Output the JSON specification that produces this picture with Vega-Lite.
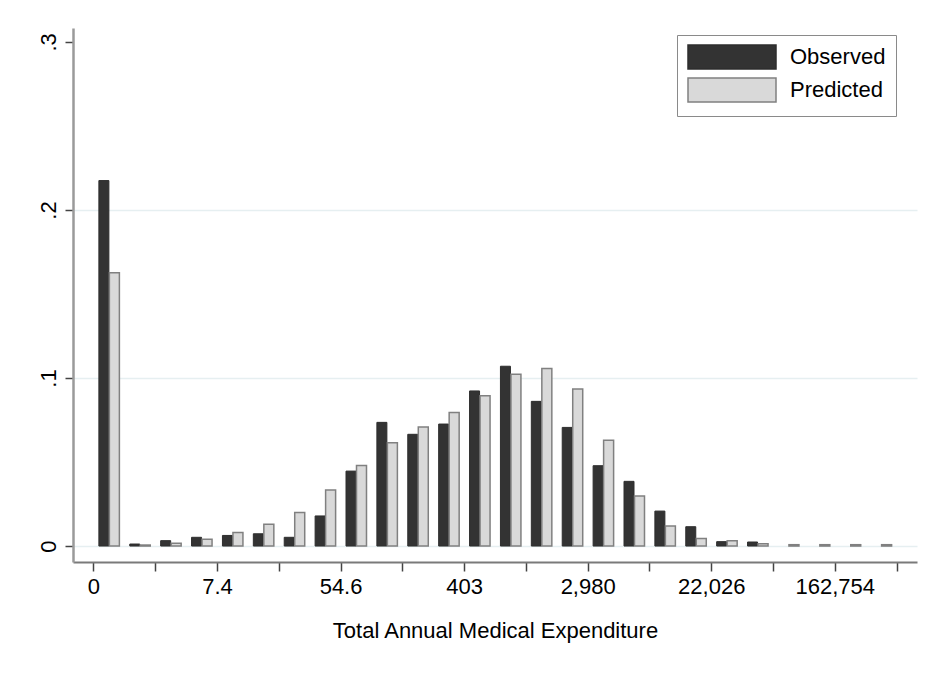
{
  "$schema": "https://vega.github.io/schema/vega-lite/v6.json",
  "width": 844,
  "height": 534,
  "autosize": {"type": "none"},
  "padding": {"left": 73, "top": 28, "right": 10, "bottom": 120},
  "background": "white",
  "config": {
    "view": {"stroke": null},
    "font": "Liberation Sans"
  },
  "data": {
    "values": [
      {"ln_exp": 0.25, "series": "Observed", "share": 0.2175},
      {"ln_exp": 0.25, "series": "Predicted", "share": 0.1627},
      {"ln_exp": 0.75, "series": "Observed", "share": 0.0012},
      {"ln_exp": 0.75, "series": "Predicted", "share": 0.0006},
      {"ln_exp": 1.25, "series": "Observed", "share": 0.0032},
      {"ln_exp": 1.25, "series": "Predicted", "share": 0.0016},
      {"ln_exp": 1.75, "series": "Observed", "share": 0.0052},
      {"ln_exp": 1.75, "series": "Predicted", "share": 0.0040},
      {"ln_exp": 2.25, "series": "Observed", "share": 0.0063},
      {"ln_exp": 2.25, "series": "Predicted", "share": 0.0081},
      {"ln_exp": 2.75, "series": "Observed", "share": 0.0073},
      {"ln_exp": 2.75, "series": "Predicted", "share": 0.0129},
      {"ln_exp": 3.25, "series": "Observed", "share": 0.0052},
      {"ln_exp": 3.25, "series": "Predicted", "share": 0.0200},
      {"ln_exp": 3.75, "series": "Observed", "share": 0.0179},
      {"ln_exp": 3.75, "series": "Predicted", "share": 0.0333},
      {"ln_exp": 4.25, "series": "Observed", "share": 0.0446},
      {"ln_exp": 4.25, "series": "Predicted", "share": 0.0480},
      {"ln_exp": 4.75, "series": "Observed", "share": 0.0736},
      {"ln_exp": 4.75, "series": "Predicted", "share": 0.0615},
      {"ln_exp": 5.25, "series": "Observed", "share": 0.0665},
      {"ln_exp": 5.25, "series": "Predicted", "share": 0.0708},
      {"ln_exp": 5.75, "series": "Observed", "share": 0.0726},
      {"ln_exp": 5.75, "series": "Predicted", "share": 0.0794},
      {"ln_exp": 6.25, "series": "Observed", "share": 0.0923},
      {"ln_exp": 6.25, "series": "Predicted", "share": 0.0895},
      {"ln_exp": 6.75, "series": "Observed", "share": 0.1070},
      {"ln_exp": 6.75, "series": "Predicted", "share": 0.1022},
      {"ln_exp": 7.25, "series": "Observed", "share": 0.0861},
      {"ln_exp": 7.25, "series": "Predicted", "share": 0.1056},
      {"ln_exp": 7.75, "series": "Observed", "share": 0.0706},
      {"ln_exp": 7.75, "series": "Predicted", "share": 0.0935},
      {"ln_exp": 8.25, "series": "Observed", "share": 0.0478},
      {"ln_exp": 8.25, "series": "Predicted", "share": 0.0629},
      {"ln_exp": 8.75, "series": "Observed", "share": 0.0385},
      {"ln_exp": 8.75, "series": "Predicted", "share": 0.0298},
      {"ln_exp": 9.25, "series": "Observed", "share": 0.0208},
      {"ln_exp": 9.25, "series": "Predicted", "share": 0.0119},
      {"ln_exp": 9.75, "series": "Observed", "share": 0.0115},
      {"ln_exp": 9.75, "series": "Predicted", "share": 0.0045},
      {"ln_exp": 10.25, "series": "Observed", "share": 0.0026},
      {"ln_exp": 10.25, "series": "Predicted", "share": 0.0032},
      {"ln_exp": 10.75, "series": "Observed", "share": 0.0024},
      {"ln_exp": 10.75, "series": "Predicted", "share": 0.0014},
      {"ln_exp": 11.25, "series": "Observed", "share": 0},
      {"ln_exp": 11.25, "series": "Predicted", "share": 0.0008},
      {"ln_exp": 11.75, "series": "Observed", "share": 0},
      {"ln_exp": 11.75, "series": "Predicted", "share": 0.0008},
      {"ln_exp": 12.25, "series": "Observed", "share": 0},
      {"ln_exp": 12.25, "series": "Predicted", "share": 0.0008},
      {"ln_exp": 12.75, "series": "Observed", "share": 0},
      {"ln_exp": 12.75, "series": "Predicted", "share": 0.0008}
    ]
  },
  "transform": [{"filter": "datum.share > 0"}],
  "encoding": {
    "x": {
      "field": "ln_exp",
      "type": "quantitative",
      "scale": {"domain": [-0.25, 13.25], "nice": false, "zero": false},
      "axis": {
        "values": [0, 1, 2, 3, 4, 5, 6, 7, 8, 9, 10, 11, 12, 13],
        "labelExpr": "datum.value == 0 ? '0' : datum.value == 2 ? '7.4' : datum.value == 4 ? '54.6' : datum.value == 6 ? '403' : datum.value == 8 ? '2,980' : datum.value == 10 ? '22,026' : datum.value == 12 ? '162,754' : ''",
        "labelFontSize": 22,
        "labelColor": "#000000",
        "labelPadding": 5,
        "labelFlush": false,
        "labelOverlap": false,
        "tickSize": 9,
        "tickColor": "#444444",
        "tickWidth": 1.5,
        "domainColor": "#7a7a7a",
        "domainWidth": 2,
        "grid": false,
        "title": "Total Annual Medical Expenditure",
        "titleFontSize": 22,
        "titleFontWeight": "normal",
        "titleColor": "#000000",
        "titlePadding": 23
      }
    },
    "y": {
      "field": "share",
      "type": "quantitative",
      "scale": {"domain": [-0.0095, 0.3083], "nice": false, "zero": false},
      "axis": {
        "values": [0, 0.1, 0.2, 0.3],
        "labelExpr": "datum.value == 0 ? '0' : '.' + round(datum.value * 10)",
        "labelAngle": -90,
        "labelFontSize": 22,
        "labelColor": "#000000",
        "labelPadding": 5,
        "tickSize": 8,
        "tickColor": "#444444",
        "tickWidth": 1.5,
        "domainColor": "#9a9a9a",
        "domainWidth": 2.5,
        "grid": true,
        "gridColor": "#e6eff1",
        "gridWidth": 1.5,
        "gridOpacity": {"condition": {"test": "datum.value > 0.25", "value": 0}, "value": 1},
        "title": null
      }
    },
    "y2": {"datum": 0},
    "color": {
      "field": "series",
      "type": "nominal",
      "scale": {"domain": ["Observed", "Predicted"], "range": ["#333333", "#d9d9d9"]},
      "legend": {
        "orient": "none",
        "legendX": 604,
        "legendY": 7,
        "title": null,
        "symbolType": "M-1,-1.1H7V1.1H-1Z",
        "symbolSize": 484,
        "symbolStrokeWidth": 1.5,
        "labelFontSize": 22,
        "labelColor": "#000000",
        "labelOffset": 79,
        "rowPadding": 1,
        "padding": 10,
        "strokeColor": "#8a8a8a",
        "fillColor": "#ffffff"
      }
    },
    "stroke": {
      "field": "series",
      "type": "nominal",
      "scale": {"domain": ["Observed", "Predicted"], "range": ["#2e2e2e", "#808080"]},
      "legend": {
        "orient": "none",
        "legendX": 604,
        "legendY": 7,
        "title": null,
        "symbolType": "M-1,-1.1H7V1.1H-1Z",
        "symbolSize": 484,
        "symbolStrokeWidth": 1.5,
        "labelFontSize": 22,
        "labelColor": "#000000",
        "labelOffset": 79,
        "rowPadding": 1,
        "padding": 10,
        "strokeColor": "#8a8a8a",
        "fillColor": "#ffffff"
      }
    }
  },
  "layer": [
    {
      "transform": [{"filter": "datum.series == 'Observed'"}],
      "mark": {"type": "bar", "width": 10, "xOffset": -5, "strokeWidth": 1}
    },
    {
      "transform": [{"filter": "datum.series == 'Predicted'"}],
      "mark": {"type": "bar", "width": 10, "xOffset": 5.5, "strokeWidth": 1.5}
    }
  ]
}
